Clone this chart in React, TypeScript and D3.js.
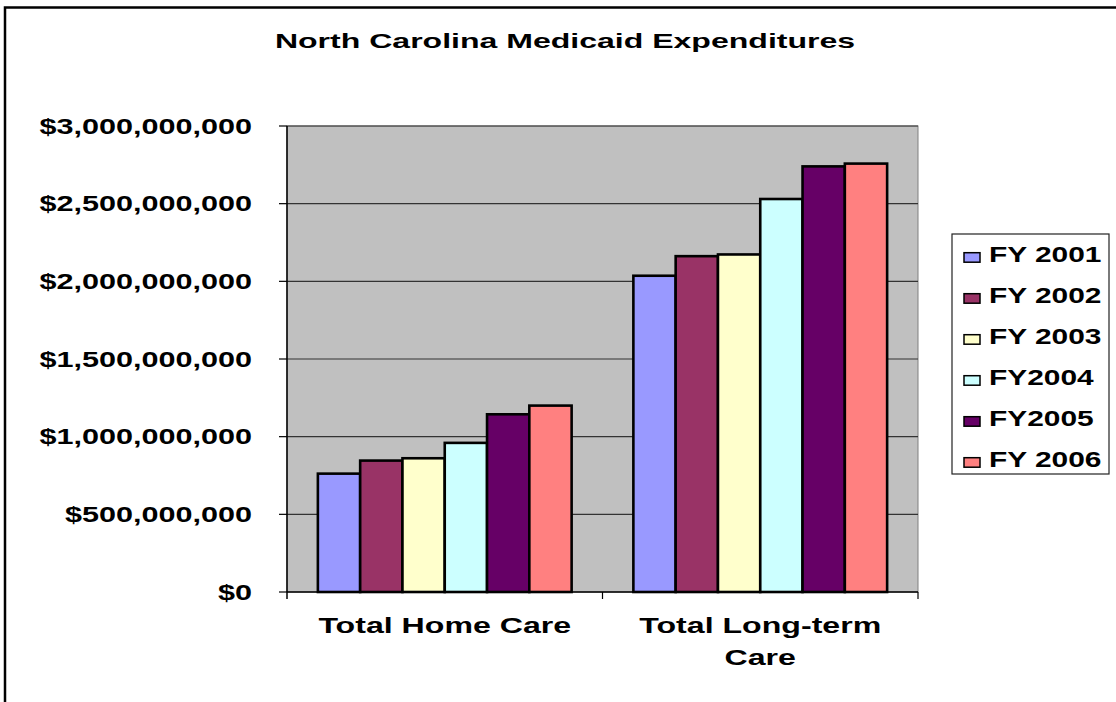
import React from "react";
import * as d3 from "d3";

const categories = ["Total Home Care", "Total Long-term Care"];
const categoryLines = [["Total Home Care"], ["Total Long-term", "Care"]];
const seriesNames = ["FY 2001", "FY 2002", "FY 2003", "FY2004", "FY2005", "FY 2006"];
const seriesColors = ["#9999FF", "#993366", "#FFFFCC", "#CCFFFF", "#660066", "#FF8080"];
const homeCare = [762e6, 846e6, 861e6, 960e6, 1144e6, 1200e6];
const longTermCare = [2036e6, 2162e6, 2173e6, 2530e6, 2740e6, 2758e6];
const yTicks = [0, 500e6, 1000e6, 1500e6, 2000e6, 2500e6, 3000e6];
const title = "North Carolina Medicaid Expenditures";

const values = [homeCare, longTermCare];

const FONT = "'Liberation Sans', Arial, Helvetica, sans-serif";

export default function App() {
  const left = 287, right = 918, top = 126, bottom = 592;
  const x0 = d3.scaleBand<string>().domain(categories).range([left, right]).padding(0);
  const x1 = d3
    .scaleBand<string>()
    .domain(seriesNames)
    .range([0, x0.bandwidth()])
    .paddingInner(0)
    .paddingOuter(0.73);
  const y = d3.scaleLinear().domain([0, 3e9]).range([bottom, top]);
  const fmt = (v: number) => "$" + d3.format(",")(v);

  const legendX = 952, legendY = 234, legendW = 157, legendH = 240;
  const legendStep = 41;

  return (
    <svg
      width={1116}
      height={702}
      style={{ position: "absolute", left: 0, top: 0, background: "#fff" }}
      fontFamily={FONT}
      fontWeight="bold"
    >
      <rect x={0} y={0} width={1116} height={702} fill="#fff" />
      {/* chart area border */}
      <rect x={5} y={7.5} width={1125} height={720} fill="none" stroke="#000" strokeWidth={2.5} />

      {/* title */}
      <text
        transform={`translate(565,48) scale(1.526,1)`}
        textAnchor="middle"
        fontSize={21}
        fill="#000"
      >
        {title}
      </text>

      {/* plot area */}
      <rect x={left} y={top} width={right - left} height={bottom - top} fill="#C0C0C0" stroke="#808080" strokeWidth={1} />
      {yTicks
        .filter((t) => t > 0)
        .map((t) => (
          <line key={"g" + t} x1={left} x2={right} y1={y(t)} y2={y(t)} stroke="#333" strokeWidth={1.2} />
        ))}

      {/* bars */}
      {categories.map((c, ci) => (
        <g key={c} transform={`translate(${x0(c)},0)`}>
          {seriesNames.map((s, si) => (
            <rect
              key={s}
              x={x1(s)}
              y={y(values[ci][si])}
              width={x1.bandwidth()}
              height={bottom - y(values[ci][si])}
              fill={seriesColors[si]}
              stroke="#000"
              strokeWidth={2.6}
            />
          ))}
        </g>
      ))}

      {/* axes */}
      <line x1={left} x2={left} y1={top} y2={bottom + 7} stroke="#000" strokeWidth={1.5} />
      <line x1={left} x2={right} y1={bottom} y2={bottom} stroke="#000" strokeWidth={1.5} />
      {yTicks.map((t) => (
        <g key={"t" + t}>
          <line x1={left - 8} x2={left} y1={y(t)} y2={y(t)} stroke="#000" strokeWidth={1.2} />
          <text
            transform={`translate(252,${y(t) + 7.7}) scale(1.39,1)`}
            textAnchor="end"
            fontSize={22}
            fill="#000"
          >
            {fmt(t)}
          </text>
        </g>
      ))}
      {categories.map((c) => (
        <line
          key={"xt" + c}
          x1={(x0(c) as number) + x0.bandwidth()}
          x2={(x0(c) as number) + x0.bandwidth()}
          y1={bottom}
          y2={bottom + 7}
          stroke="#000"
          strokeWidth={1.2}
        />
      ))}
      {categories.map((c, ci) =>
        categoryLines[ci].map((line, li) => (
          <text
            key={c + li}
            transform={`translate(${(x0(c) as number) + x0.bandwidth() / 2},${633.3 + li * 31.7}) scale(1.46,1)`}
            textAnchor="middle"
            fontSize={22}
            fill="#000"
          >
            {line}
          </text>
        ))
      )}

      {/* legend */}
      <rect x={legendX} y={legendY} width={legendW} height={legendH} fill="#fff" stroke="#222" strokeWidth={1.2} />
      {seriesNames.map((s, i) => (
        <g key={"l" + s}>
          <rect
            x={964}
            y={legendY + 18.7 + i * legendStep}
            width={16}
            height={9.5}
            fill={seriesColors[i]}
            stroke="#000"
            strokeWidth={1.5}
          />
          <text
            transform={`translate(989,${legendY + 27.7 + i * legendStep}) scale(1.39,1)`}
            fontSize={21.5}
            fill="#000"
          >
            {s}
          </text>
        </g>
      ))}
    </svg>
  );
}
